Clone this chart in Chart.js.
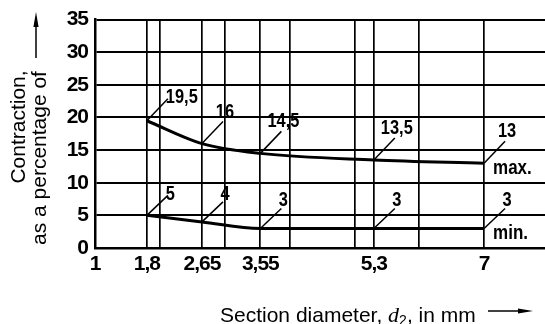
<!DOCTYPE html>
<html><head><meta charset="utf-8">
<script src="https://cdn.jsdelivr.net/npm/chart.js@4"></script>
<style>html,body{margin:0;padding:0;background:#fff}#wrap{width:545px;height:324px;position:relative}</style>
</head><body><div id="wrap"><canvas id="c"></canvas></div>
<script>
// ---- data ----
const diameters = [1.8, 2.65, 3.55, 5.3, 7];
const maxContraction = [19.5, 16, 14.5, 13.5, 13];
const minContraction = [5, 4, 3, 3, 3];
const seriesNames = ['max.', 'min.'];
const xTickValues = [1, 1.8, 2, 2.65, 3, 3.55, 4, 5, 5.3, 6, 7];
const xLabelledTicks = [1, 1.8, 2.65, 3.55, 5.3, 7];
const yTickValues = [0, 5, 10, 15, 20, 25, 30, 35];
const yTitleLines = ['Contraction,', 'as a percentage of'];
const xTitleParts = ['Section diameter, ', 'd', '2', ', in mm'];

const fmt = v => String(v).replace('.', ',');
const DIGIT_FONT = "'Liberation Sans', Arial, sans-serif";
const TEXT_FONT = "'Liberation Sans', Arial, sans-serif";
// per-series label styling: leader rise, text baseline offset
const leaderRise = [22, 20];
const textDrop = [4, 2];

function condensedText(ctx, t, x, y, align, k) {
  ctx.save();
  ctx.translate(x, y); ctx.scale(k, 1);
  ctx.textAlign = align;
  ctx.fillText(t, 0, 0);
  ctx.restore();
}

const annotPlugin = {
  id: 'annot',
  beforeDraw(chart) { try { chart.ctx.letterSpacing = '-1px'; } catch (e) {} },
  afterDatasetsDraw(chart) {
    const ctx = chart.ctx, xs = chart.scales.x, ys = chart.scales.y;
    ctx.save();
    try { ctx.letterSpacing = '0px'; } catch (e) {}
    ctx.strokeStyle = '#000'; ctx.fillStyle = '#000';
    ctx.lineWidth = 1.5;
    ctx.font = "bold 20px " + DIGIT_FONT;
    chart.data.datasets.forEach((ds, di) => {
      ds.data.forEach((p, i) => {
        const px = xs.getPixelForValue(p.x), py = ys.getPixelForValue(p.y);
        const ex = px + 21, ey = py - leaderRise[di];
        ctx.beginPath(); ctx.moveTo(px, py); ctx.lineTo(ex, ey); ctx.stroke();
        const t = fmt(p.y);
        if (i === 0) {
          ctx.textBaseline = 'middle';
          condensedText(ctx, t, ex - 2, ey - 1, 'left', 0.82);
        } else {
          ctx.textBaseline = 'alphabetic';
          condensedText(ctx, t, ex + 2, ey - textDrop[di], 'center', 0.82);
        }
      });
      const last = ds.data[ds.data.length - 1];
      const lx = xs.getPixelForValue(last.x), ly = ys.getPixelForValue(last.y);
      ctx.textBaseline = 'middle';
      condensedText(ctx, ds.label, lx + 9, ly + 5, 'left', 0.85);
    });
    ctx.restore();
  },
  afterDraw(chart) {
    const ctx = chart.ctx;
    ctx.save();
    try { ctx.letterSpacing = '0px'; } catch (e) {}
    ctx.fillStyle = '#000'; ctx.strokeStyle = '#000';
    ctx.font = "21px " + TEXT_FONT;
    ctx.save(); ctx.translate(25, 127); ctx.rotate(-Math.PI / 2);
    ctx.textAlign = 'center'; ctx.textBaseline = 'alphabetic';
    ctx.fillText(yTitleLines[0], 0, 0); ctx.restore();
    ctx.save(); ctx.translate(46, 245); ctx.rotate(-Math.PI / 2);
    ctx.textAlign = 'left'; ctx.textBaseline = 'alphabetic';
    ctx.fillText(yTitleLines[1], 0, 0);
    ctx.restore();
    ctx.lineWidth = 1.5;
    ctx.beginPath(); ctx.moveTo(36, 58); ctx.lineTo(36, 20); ctx.stroke();
    ctx.beginPath(); ctx.moveTo(36, 12); ctx.lineTo(38.6, 27); ctx.lineTo(33.4, 27); ctx.closePath(); ctx.fill();
    let x = 220; const by = 322;
    ctx.textAlign = 'left'; ctx.textBaseline = 'alphabetic';
    ctx.font = "21px " + TEXT_FONT;
    ctx.fillText(xTitleParts[0], x, by); x += ctx.measureText(xTitleParts[0]).width;
    ctx.font = "italic 22px 'Liberation Serif', serif";
    ctx.fillText(xTitleParts[1], x, by); x += ctx.measureText(xTitleParts[1]).width;
    ctx.font = "14px " + TEXT_FONT;
    ctx.fillText(xTitleParts[2], x, by + 3); x += ctx.measureText(xTitleParts[2]).width;
    ctx.font = "21px " + TEXT_FONT;
    ctx.fillText(xTitleParts[3], x, by);
    ctx.lineWidth = 1.5;
    ctx.beginPath(); ctx.moveTo(488, 311); ctx.lineTo(525, 311); ctx.stroke();
    ctx.beginPath(); ctx.moveTo(533, 311); ctx.lineTo(518, 308.4); ctx.lineTo(518, 313.6); ctx.closePath(); ctx.fill();
    ctx.restore();
  }
};

const mk = arr => diameters.map((d, i) => ({ x: d, y: arr[i] }));

new Chart(document.getElementById('c'), {
  type: 'line',
  data: {
    datasets: [
      { label: seriesNames[0], data: mk(maxContraction), borderColor: '#000', borderWidth: 3, pointRadius: 0, cubicInterpolationMode: 'monotone', fill: false },
      { label: seriesNames[1], data: mk(minContraction), borderColor: '#000', borderWidth: 3, pointRadius: 0, cubicInterpolationMode: 'monotone', fill: false }
    ]
  },
  options: {
    responsive: true, maintainAspectRatio: false, animation: false,
    devicePixelRatio: 1,
    layout: { padding: { top: 14, right: 0, left: 0, bottom: 0 } },
    plugins: { legend: { display: false }, tooltip: { enabled: false } },
    scales: {
      x: {
        type: 'linear', min: 1, max: 7.94,
        afterBuildTicks: s => { s.ticks = xTickValues.map(v => ({ value: v })); },
        afterFit: s => { s.height = 76; },
        ticks: {
          autoSkip: false, maxRotation: 0, padding: 4, color: '#000',
          font: { family: DIGIT_FONT, size: 21, weight: 'bold' },
          callback: v => xLabelledTicks.includes(v) ? fmt(v) : ''
        },
        grid: { color: '#000', lineWidth: 1.7, drawTicks: false },
        border: { color: '#000', width: 2.5 }
      },
      y: {
        min: 0, max: 35,
        afterBuildTicks: s => { s.ticks = yTickValues.map(v => ({ value: v })); },
        afterFit: s => { s.width = 95; },
        ticks: {
          padding: 7, color: '#000',
          font: { family: DIGIT_FONT, size: 21, weight: 'bold' },
          callback: v => fmt(v)
        },
        grid: { color: '#000', lineWidth: 2, drawTicks: false },
        border: { color: '#000', width: 2.5 }
      }
    }
  },
  plugins: [annotPlugin]
});
</script></body></html>
